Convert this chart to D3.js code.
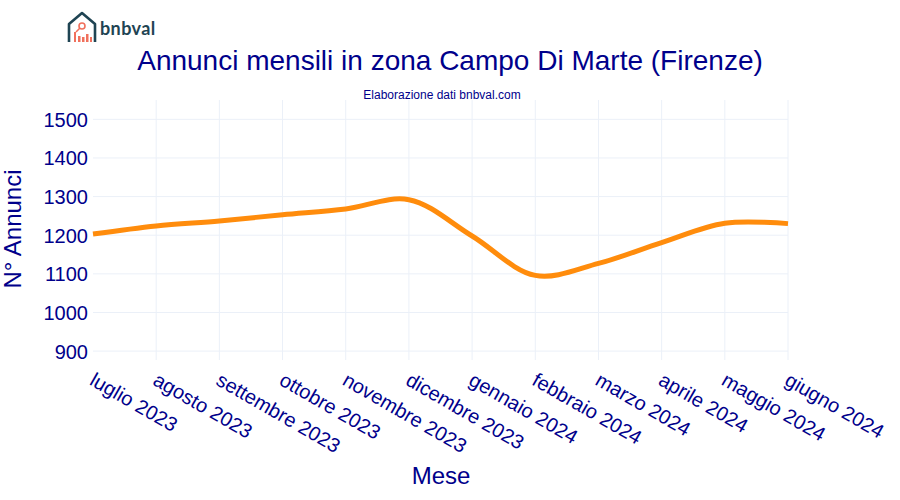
<!DOCTYPE html>
<html>
<head>
<meta charset="utf-8">
<script src="https://cdn.jsdelivr.net/npm/d3@7"></script>
<style>
  html, body { margin: 0; background: #fff; }
  text { font-family: "Liberation Sans", Arial, sans-serif; fill: #00008b; }
</style>
</head>
<body>
<svg id="chart" width="900" height="500"></svg>
<script>
const months = ["luglio 2023", "agosto 2023", "settembre 2023", "ottobre 2023", "novembre 2023", "dicembre 2023",
  "gennaio 2024", "febbraio 2024", "marzo 2024", "aprile 2024", "maggio 2024", "giugno 2024"];
const annunci = [1203, 1224, 1237, 1253, 1268, 1292, 1198, 1096, 1127, 1181, 1231, 1230];
const yTicks = [900, 1000, 1100, 1200, 1300, 1400, 1500];

const margin = { top: 100, right: 112, bottom: 140, left: 93 };
const width = 900 - margin.left - margin.right;
const height = 500 - margin.top - margin.bottom;

const svg = d3.select("#chart");
const g = svg.append("g").attr("transform", `translate(${margin.left},${margin.top})`);

const x = d3.scalePoint().domain(months).range([0, width]);
const y = d3.scaleLinear().domain([877, 1550]).range([height, 0]);

// Grid
g.append("g").selectAll("line").data(months.slice(1)).enter().append("line")
  .attr("x1", (d) => x(d)).attr("x2", (d) => x(d))
  .attr("y1", 0).attr("y2", height)
  .attr("stroke", "#ebf0f8").attr("stroke-width", 1);
g.append("g").selectAll("line").data(yTicks).enter().append("line")
  .attr("x1", 0).attr("x2", width)
  .attr("y1", (d) => y(d)).attr("y2", (d) => y(d))
  .attr("stroke", "#ebf0f8").attr("stroke-width", 1);

// Axes
const yAxis = g.append("g").call(d3.axisLeft(y).tickValues(yTicks).tickFormat(d3.format("d")).tickSize(0).tickPadding(5));
yAxis.select("path").remove();
yAxis.selectAll("text").style("font-size", "20px").attr("dy", "0.35em");

const xAxis = g.append("g").attr("transform", `translate(0,${height})`)
  .call(d3.axisBottom(x).tickSize(0));
xAxis.select("path").remove();
xAxis.selectAll("text")
  .style("font-size", "20px")
  .attr("text-anchor", "start")
  .attr("x", 0).attr("y", 0).attr("dy", 0)
  .attr("transform", "translate(-5,24) rotate(30)");

// Line
const line = d3.line()
  .x((d, i) => x(months[i]))
  .y((d) => y(d))
  .curve(d3.curveCatmullRom.alpha(0.5));

g.append("path")
  .datum(annunci)
  .attr("fill", "none")
  .attr("stroke", "#ff8c0c")
  .attr("stroke-width", 5)
  .attr("d", line);

// Titles
svg.append("text").attr("x", 450).attr("y", 70).attr("text-anchor", "middle")
  .style("font-size", "28px").text("Annunci mensili in zona Campo Di Marte (Firenze)");
svg.append("text").attr("x", 442).attr("y", 99).attr("text-anchor", "middle")
  .style("font-size", "12px").text("Elaborazione dati bnbval.com");
svg.append("text").attr("x", 441).attr("y", 484).attr("text-anchor", "middle")
  .style("font-size", "24px").text("Mese");
svg.append("text").attr("transform", "translate(21,229) rotate(-90)").attr("text-anchor", "middle")
  .style("font-size", "24px").text("N° Annunci");

// Logo
const logo = svg.append("g");
logo.append("path")
  .attr("d", "M69 42V24L82 13L95 24V42")
  .attr("fill", "none").attr("stroke", "#1f4453").attr("stroke-width", 2.6).attr("stroke-linejoin", "round");
logo.append("circle").attr("cx", 82).attr("cy", 26).attr("r", 3)
  .attr("fill", "none").attr("stroke", "#f0705c").attr("stroke-width", 1.6);
logo.append("path").attr("d", "M80 28L76 32").attr("stroke", "#f0705c").attr("stroke-width", 1.6);
logo.append("g").attr("fill", "#f0705c").selectAll("rect")
  .data([[74, 32, 2, 10], [78, 36, 2.5, 6], [82, 37, 2.5, 5], [86, 34, 2.5, 8], [90, 37, 2, 5]])
  .enter().append("rect")
  .attr("x", (d) => d[0]).attr("y", (d) => d[1]).attr("width", (d) => d[2]).attr("height", (d) => d[3]);
logo.append("text").attr("x", 100).attr("y", 35)
  .style("font-family", "Lato, sans-serif").style("font-weight", 700).style("font-size", "18px")
  .style("letter-spacing", "0.4px").style("fill", "#1f4453").text("bnbval");
</script>
</body>
</html>
